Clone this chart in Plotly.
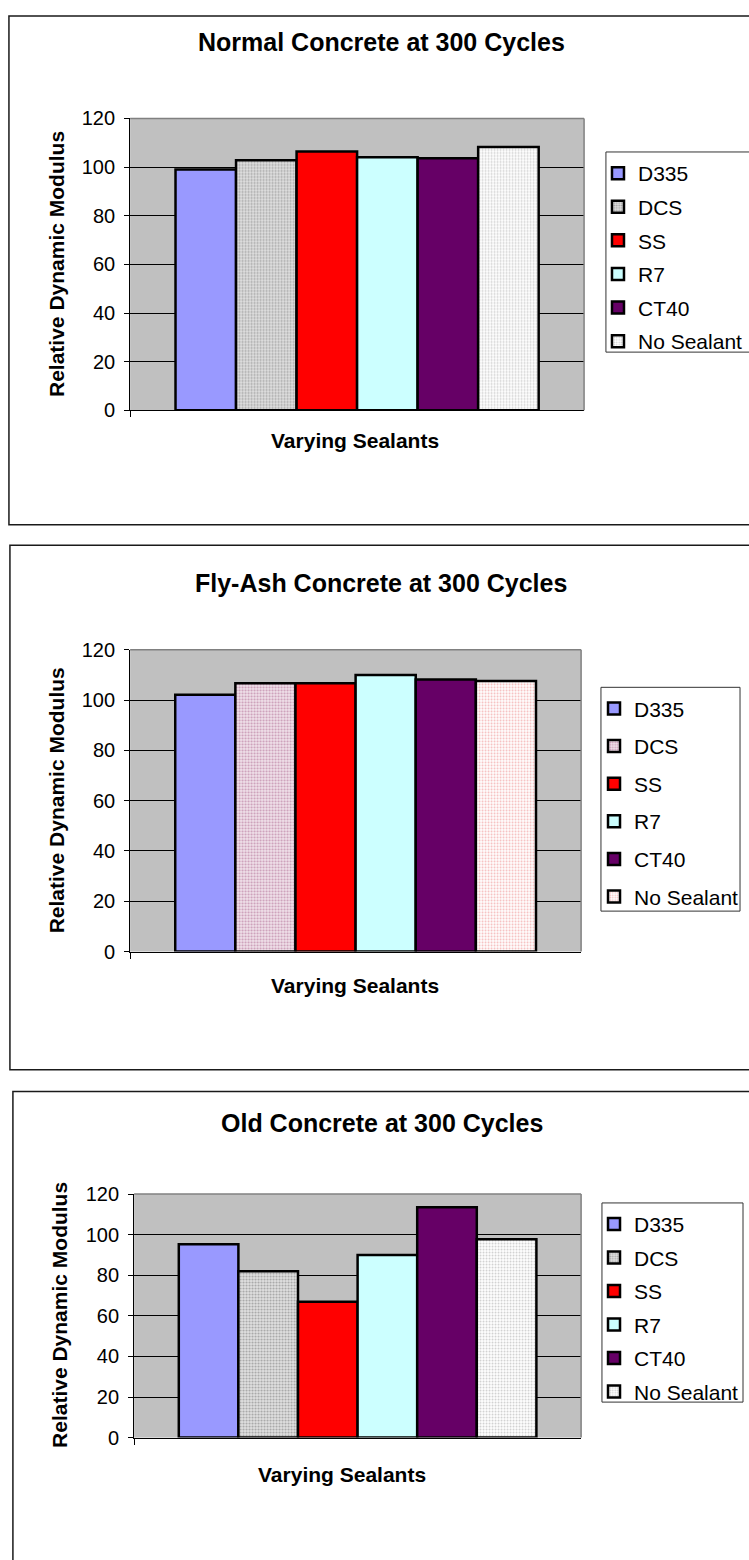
import plotly.graph_objects as go

# ---- data -------------------------------------------------------------
sealants = ["D335", "DCS", "SS", "R7", "CT40", "No Sealant"]
normal_values = [99.0, 102.8, 106.4, 104.0, 103.6, 108.3]
flyash_values = [102.1, 106.7, 106.7, 110.0, 108.2, 107.6]
old_values = [95.3, 82.0, 67.0, 90.0, 113.5, 97.7]
panel_titles = [
    "Normal Concrete at 300 Cycles",
    "Fly-Ash Concrete at 300 Cycles",
    "Old Concrete at 300 Cycles",
]
y_ticks = [0, 20, 40, 60, 80, 100, 120]
x_title = "Varying Sealants"
y_title = "Relative Dynamic Modulus"

# ---- styling ----------------------------------------------------------
W, H = 749, 1560
FONT = "Liberation Sans, Arial, sans-serif"


def fx(px):
    return px / W


def fy(py):
    return 1 - py / H


def solid(color):
    return dict(color=color)


def dotted(bg, fg, solidity):
    return dict(color=bg, pattern=dict(shape=".", bgcolor=bg, fgcolor=fg,
                                       size=3, solidity=solidity,
                                       fillmode="replace"))


grey_fills = [solid("#9999FF"), dotted("#E2E2E2", "#A4A4A4", 0.4),
              solid("#FF0000"), solid("#CCFFFF"), solid("#660066"),
              dotted("#FFFFFF", "#CDCDCD", 0.3)]
pink_fills = [solid("#9999FF"), dotted("#F2E4EC", "#C898B4", 0.4),
              solid("#FF0000"), solid("#CCFFFF"), solid("#660066"),
              dotted("#FFFFFF", "#F4B8B8", 0.3)]

# pixel geometry of each chart: plot area, outer frame, text anchors,
# legend frame and the x position where legend items start
panels = [
    dict(values=normal_values, fills=grey_fills,
         plot=(131, 588, 109, 405), box=(9, 780, 5, 521),
         title=(384, 31), xt=(357, 436), yt=(57, 257),
         legbox=(610, 760, 143, 346), legx=601, gap=3.3),
    dict(values=flyash_values, fills=pink_fills,
         plot=(131, 585, 648, 954), box=(10, 780, 542, 1074),
         title=(384, 580), xt=(357, 988), yt=(57, 801),
         legbox=(605, 745, 686, 913), legx=597, gap=7.3),
    dict(values=old_values, fills=grey_fills,
         plot=(135, 585, 1200, 1447), box=(13, 780, 1096, 1620),
         title=(385, 1128), xt=(344, 1484), yt=(60, 1323),
         legbox=(606, 748, 1209, 1411), legx=597, gap=3.2),
]

fig = go.Figure()
layout = dict(
    width=W, height=H, margin=dict(l=0, r=0, t=0, b=0),
    paper_bgcolor="white", plot_bgcolor="#C0C0C0",
    barmode="group", bargap=0.2, bargroupgap=0,
    font=dict(family=FONT, color="black"),
    showlegend=True,
)
shapes = []
annotations = []

for i, p in enumerate(panels, start=1):
    sfx = "" if i == 1 else str(i)
    xa, ya = "x" + sfx, "y" + sfx
    leg = "legend" + sfx
    x0, x1, y0, y1 = p["plot"]

    for k, (name, val) in enumerate(zip(sealants, p["values"])):
        fig.add_trace(go.Bar(
            x=[x_title], y=[val], name=name,
            xaxis=xa, yaxis=ya, legend=leg,
            legendgroup=f"p{i}_{k}",
            marker=dict(**p["fills"][k], line=dict(color="black", width=2.5)),
        ))

    layout["xaxis" + sfx] = dict(
        domain=[fx(x0), fx(x1)], anchor=ya, range=[-0.5, 0.5],
        showticklabels=False, ticks="outside", tickson="boundaries",
        ticklen=6, tickcolor="black", showline=True, linecolor="black",
        linewidth=1, showgrid=False, zeroline=False,
    )
    layout["yaxis" + sfx] = dict(
        domain=[fy(y1), fy(y0)], anchor=xa, range=[0, 120],
        tickvals=y_ticks, ticks="outside", ticklen=5, tickcolor="black",
        showline=True, linecolor="black", linewidth=1,
        showgrid=True, gridcolor="black", gridwidth=1, zeroline=False,
        tickfont=dict(size=20, family=FONT, color="black"),
        ticklabelstandoff=5,
    )

    # legend frame drawn as a shape; legend entries sit on top of it
    lbx0, lbx1, lby0, lby1 = p["legbox"]
    shapes.append(dict(type="rect", xref="paper", yref="paper",
                       x0=fx(lbx0), x1=fx(lbx1), y0=fy(lby1), y1=fy(lby0),
                       fillcolor="white", line=dict(color="#333333", width=1)))
    layout[leg] = dict(
        x=fx(p["legx"]), y=fy(lby0), xanchor="left", yanchor="top",
        bgcolor="rgba(0,0,0,0)", bordercolor="rgba(0,0,0,0)", borderwidth=1,
        font=dict(size=21, family=FONT, color="black"),
        tracegroupgap=p["gap"], itemclick=False,
    )

    # plot area frame (top and right edges)
    shapes.append(dict(type="line", xref=xa + " domain", yref=ya + " domain",
                       x0=0, x1=1, y0=1, y1=1,
                       line=dict(color="#808080", width=1.5)))
    shapes.append(dict(type="line", xref=xa + " domain", yref=ya + " domain",
                       x0=1, x1=1, y0=0, y1=1,
                       line=dict(color="#808080", width=1.5)))
    # chart frame
    bx0, bx1, by0, by1 = p["box"]
    shapes.append(dict(type="rect", xref="paper", yref="paper",
                       x0=fx(bx0), x1=fx(bx1), y0=fy(by1), y1=fy(by0),
                       line=dict(color="#1a1a1a", width=1.5)))

    tx, ty = p["title"]
    annotations.append(dict(text="<b>" + panel_titles[i - 1] + "</b>",
                            x=fx(tx), y=fy(ty), xref="paper", yref="paper",
                            showarrow=False, xanchor="center", yanchor="middle",
                            font=dict(size=25, family=FONT, color="black")))
    ax_, ay_ = p["xt"]
    annotations.append(dict(text="<b>" + x_title + "</b>",
                            x=fx(ax_), y=fy(ay_), xref="paper", yref="paper",
                            showarrow=False, xanchor="center", yanchor="middle",
                            font=dict(size=21, family=FONT, color="black")))
    yx, yy = p["yt"]
    annotations.append(dict(text="<b>" + y_title + "</b>", textangle=-90,
                            x=fx(yx), y=fy(yy), xref="paper", yref="paper",
                            showarrow=False, xanchor="center", yanchor="middle",
                            font=dict(size=21, family=FONT, color="black")))

layout["shapes"] = shapes
layout["annotations"] = annotations
fig.update_layout(**layout)

fig.write_html("out.html")
